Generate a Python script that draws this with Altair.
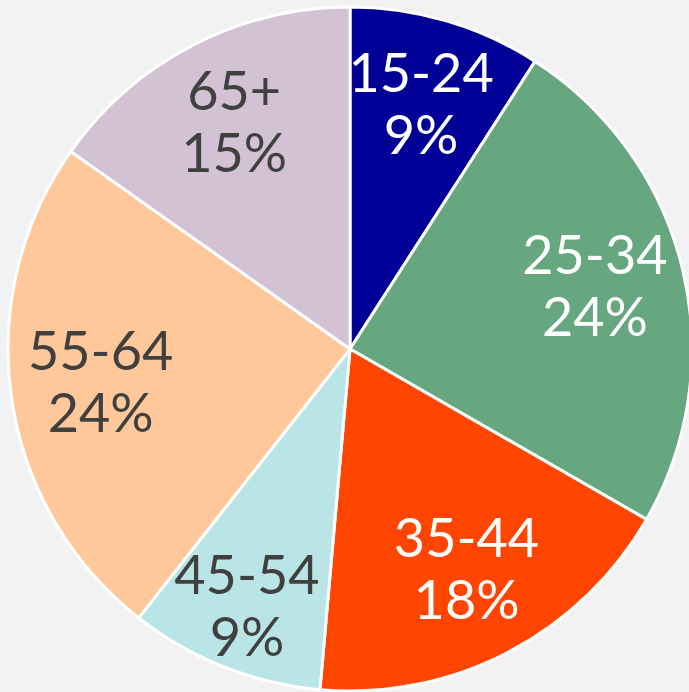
import altair as alt
import pandas as pd

groups = ["15-24", "25-34", "35-44", "45-54", "55-64", "65+"]
shares = [9.1, 24.2, 18.1, 9.2, 24.2, 15.2]
pct_labels = ["9%", "24%", "18%", "9%", "24%", "15%"]
colors = ["#000096", "#66A77F", "#FF4500", "#BAE5E6", "#FFC89A", "#D3C1D4"]
text_colors = ["#FFFFFF", "#FFFFFF", "#FFFFFF", "#404040", "#404040", "#404040"]

df = pd.DataFrame({
    "group": groups,
    "share": shares,
    "label": [f"{g}\n{p}" for g, p in zip(groups, pct_labels)],
    "order": list(range(len(groups))),
    "tcolor": text_colors,
})

base = alt.Chart(df).encode(
    theta=alt.Theta("share:Q", stack=True),
    order=alt.Order("order:Q"),
    x=alt.value(350),
    y=alt.value(349),
)

arcs = base.mark_arc(outerRadius=342, stroke="white", strokeWidth=3).encode(
    color=alt.Color("group:N", scale=alt.Scale(domain=groups, range=colors), legend=None)
)

text_style = dict(font="Lato", fontSize=54, fontWeight="normal", lineBreak="\n",
                  lineHeight=62, align="center", baseline="middle", dy=-31)

texts_main = base.mark_text(radius=252, **text_style).encode(
    text="label:N",
    color=alt.Color("tcolor:N", scale=None),
    opacity=alt.condition(alt.datum.group == "45-54", alt.value(0), alt.value(1)),
)
texts_small = base.mark_text(radius=280, **text_style).encode(
    text="label:N",
    color=alt.Color("tcolor:N", scale=None),
    opacity=alt.condition(alt.datum.group == "45-54", alt.value(1), alt.value(0)),
)

chart = (arcs + texts_main + texts_small).properties(
    width=689, height=692, padding=0, background="#F2F2F2",
    autosize=alt.AutoSizeParams(type="none"),
).configure_view(stroke=None)

chart.save("out.html", embed_options={"renderer": "svg", "actions": False})
